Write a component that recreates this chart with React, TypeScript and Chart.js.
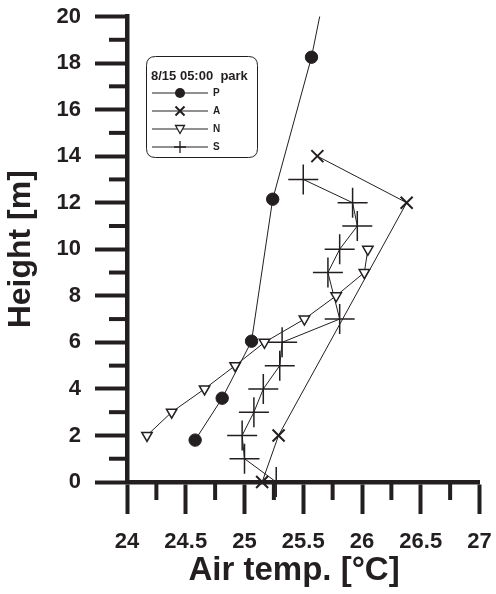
import React, { useEffect, useRef } from "react";
import { Chart, registerables } from "chart.js";

Chart.register(...registerables);

const seriesNames = ["P", "A", "N", "S"];
const legendTitle = "8/15 05:00  park";
const xTitle = "Air temp. [°C]";
const yTitle = "Height [m]";

// P (filled circles); last point lies above the plotted range (line runs off the top)
const tempP = [24.58, 24.81, 25.06, 25.24, 25.57, 25.68];
const heightP = [1.8, 3.6, 6.05, 12.15, 18.25, 21];

// A (x markers)
const tempA = [25.15, 25.29, 26.38, 25.62];
const heightA = [0, 2, 12, 14];

// N (open down-triangles)
const tempN = [24.17, 24.38, 24.66, 24.92, 25.17, 25.51, 25.78, 26.02, 26.05];
const heightN = [2, 3, 4, 5, 6, 7, 8, 9, 10];

// S (plus markers)
const tempS = [25.27, 25.0, 24.98, 25.08, 25.16, 25.3, 25.32, 25.81, 25.71, 25.81, 25.96, 25.92, 25.5];
const heightS = [0, 1, 2, 3, 4, 5, 6, 7, 9, 10, 11, 12, 13];

const xMin = 24;
const xMax = 27;
const xStep = 0.5;
const xMinorTicks = [24.25, 24.75, 25.25, 25.75, 26.25, 26.75];
const yMin = 0;
const yMax = 20;
const yStep = 2;
const yMinorTicks = [1, 3, 5, 7, 9, 11, 13, 15, 17, 19];

const INK = "#231f20";
const FONT = "'Liberation Sans', Arial, sans-serif";

const toPts = (xs: number[], ys: number[]) => xs.map((x, i) => ({ x, y: ys[i] }));

const minorTickPlugin = {
  id: "minorTicks",
  beforeDatasetsDraw(chart: any) {
    const ctx = chart.ctx;
    const xs = chart.scales.x;
    const ys = chart.scales.y;
    const area = chart.chartArea;
    ctx.save();
    ctx.strokeStyle = INK;
    ctx.lineWidth = 4;
    xMinorTicks.forEach((v) => {
      const px = xs.getPixelForValue(v);
      ctx.beginPath();
      ctx.moveTo(px, area.bottom);
      ctx.lineTo(px, area.bottom + 18);
      ctx.stroke();
    });
    yMinorTicks.forEach((v) => {
      const py = ys.getPixelForValue(v);
      ctx.beginPath();
      ctx.moveTo(area.left, py);
      ctx.lineTo(area.left - 18, py);
      ctx.stroke();
    });
    ctx.restore();
  },
};

function drawMarker(ctx: CanvasRenderingContext2D, name: string, x: number, y: number) {
  ctx.save();
  ctx.strokeStyle = INK;
  ctx.fillStyle = INK;
  ctx.beginPath();
  if (name === "P") {
    ctx.arc(x, y, 5, 0, Math.PI * 2);
    ctx.fill();
  } else if (name === "A") {
    ctx.lineWidth = 2;
    const r = 4.5;
    ctx.moveTo(x - r, y - r);
    ctx.lineTo(x + r, y + r);
    ctx.moveTo(x + r, y - r);
    ctx.lineTo(x - r, y + r);
    ctx.stroke();
  } else if (name === "N") {
    ctx.lineWidth = 1.3;
    ctx.moveTo(x - 4.5, y - 3.5);
    ctx.lineTo(x + 4.5, y - 3.5);
    ctx.lineTo(x, y + 4.5);
    ctx.closePath();
    ctx.fillStyle = "#fff";
    ctx.fill();
    ctx.stroke();
  } else {
    ctx.lineWidth = 1.3;
    ctx.moveTo(x - 6, y);
    ctx.lineTo(x + 6, y);
    ctx.moveTo(x, y - 6);
    ctx.lineTo(x, y + 6);
    ctx.stroke();
  }
  ctx.restore();
}

const legendPlugin = {
  id: "boxLegend",
  afterDatasetsDraw(chart: any) {
    const ctx = chart.ctx as CanvasRenderingContext2D;
    const bx = 146.5, by = 56.5, bw = 111, bh = 101, r = 9;
    ctx.save();
    ctx.beginPath();
    ctx.moveTo(bx + r, by);
    ctx.lineTo(bx + bw - r, by);
    ctx.quadraticCurveTo(bx + bw, by, bx + bw, by + r);
    ctx.lineTo(bx + bw, by + bh - r);
    ctx.quadraticCurveTo(bx + bw, by + bh, bx + bw - r, by + bh);
    ctx.lineTo(bx + r, by + bh);
    ctx.quadraticCurveTo(bx, by + bh, bx, by + bh - r);
    ctx.lineTo(bx, by + r);
    ctx.quadraticCurveTo(bx, by, bx + r, by);
    ctx.closePath();
    ctx.fillStyle = "#fff";
    ctx.fill();
    ctx.strokeStyle = INK;
    ctx.lineWidth = 1;
    ctx.stroke();

    ctx.fillStyle = INK;
    ctx.font = `bold 13px ${FONT}`;
    ctx.textBaseline = "alphabetic";
    ctx.textAlign = "left";
    ctx.fillText(legendTitle, 151, 80);

    seriesNames.forEach((name, i) => {
      const y = 93 + i * 18;
      ctx.strokeStyle = INK;
      ctx.lineWidth = 1;
      ctx.beginPath();
      ctx.moveTo(152, y);
      ctx.lineTo(208, y);
      ctx.stroke();
      drawMarker(ctx, name, 180, y);
      ctx.fillStyle = INK;
      ctx.font = `bold 10px ${FONT}`;
      ctx.textBaseline = "middle";
      ctx.fillText(name, 213, y + 0.5);
    });
    ctx.restore();
  },
};

export default function App() {
  const canvasRef = useRef<HTMLCanvasElement | null>(null);

  useEffect(() => {
    if (!canvasRef.current) return;
    const base = {
      showLine: true,
      borderColor: INK,
      borderWidth: 1,
      tension: 0,
      pointBorderColor: INK,
      clip: false as any,
    };
    const chart = new Chart(canvasRef.current, {
      type: "scatter",
      data: {
        datasets: [
          {
            ...base,
            label: seriesNames[0],
            data: toPts(tempP, heightP),
            pointStyle: "circle",
            pointRadius: 6.2,
            pointBackgroundColor: INK,
            pointBorderWidth: 1,
            clip: { left: false, right: false, top: 0, bottom: false } as any,
          },
          {
            ...base,
            label: seriesNames[1],
            data: toPts(tempA, heightA),
            pointStyle: "crossRot",
            pointRadius: 8.5,
            pointBorderWidth: 2,
          },
          {
            ...base,
            label: seriesNames[2],
            data: toPts(tempN, heightN),
            pointStyle: "triangle",
            pointRotation: 180,
            pointRadius: 6,
            pointBackgroundColor: "#fff",
            pointBorderWidth: 1.5,
          },
          {
            ...base,
            label: seriesNames[3],
            data: toPts(tempS, heightS),
            pointStyle: "cross",
            pointRadius: 15,
            pointBorderWidth: 1.5,
          },
        ],
      },
      options: {
        animation: false,
        responsive: true,
        maintainAspectRatio: false,
        layout: { padding: { top: 16, right: 13, left: 0, bottom: 0 } },
        plugins: {
          legend: { display: false },
          tooltip: { enabled: false },
        },
        scales: {
          x: {
            type: "linear",
            min: xMin,
            max: xMax,
            ticks: {
              stepSize: xStep,
              color: INK,
              font: { family: FONT, size: 22, weight: "bold" },
              padding: 15,
              maxRotation: 0,
              callback: (v: any) => String(Math.round(Number(v) * 100) / 100),
            },
            grid: {
              drawOnChartArea: false,
              drawTicks: true,
              tickLength: 32,
              tickWidth: 4,
              tickColor: INK,
            },
            border: { display: true, color: INK, width: 4.5 },
            title: {
              display: true,
              text: xTitle + "\u00a0\u00a0",
              color: INK,
              font: { family: FONT, size: 33, weight: "bold" },
              padding: { top: 0, bottom: 3 },
            },
            afterFit: (scale: any) => {
              scale.height = 112;
              scale.paddingLeft = 0;
              scale.paddingRight = 0;
            },
          },
          y: {
            type: "linear",
            min: yMin,
            max: yMax,
            ticks: {
              stepSize: yStep,
              color: INK,
              font: { family: FONT, size: 22, weight: "bold" },
              padding: 14,
            },
            grid: {
              drawOnChartArea: false,
              drawTicks: true,
              tickLength: 32,
              tickWidth: 4,
              tickColor: INK,
            },
            border: { display: true, color: INK, width: 4.5 },
            title: {
              display: true,
              text: yTitle,
              color: INK,
              font: { family: FONT, size: 32, weight: "bold" },
              padding: { top: 2, bottom: 0 },
            },
            afterFit: (scale: any) => {
              scale.width = 127;
              scale.paddingTop = 0;
              scale.paddingBottom = 0;
            },
          },
        },
      },
      plugins: [minorTickPlugin, legendPlugin],
    });
    return () => chart.destroy();
  }, []);

  return (
    <div style={{ position: "fixed", left: 0, top: 0, width: 496, height: 594, background: "#fff" }}>
      <canvas ref={canvasRef} />
    </div>
  );
}
